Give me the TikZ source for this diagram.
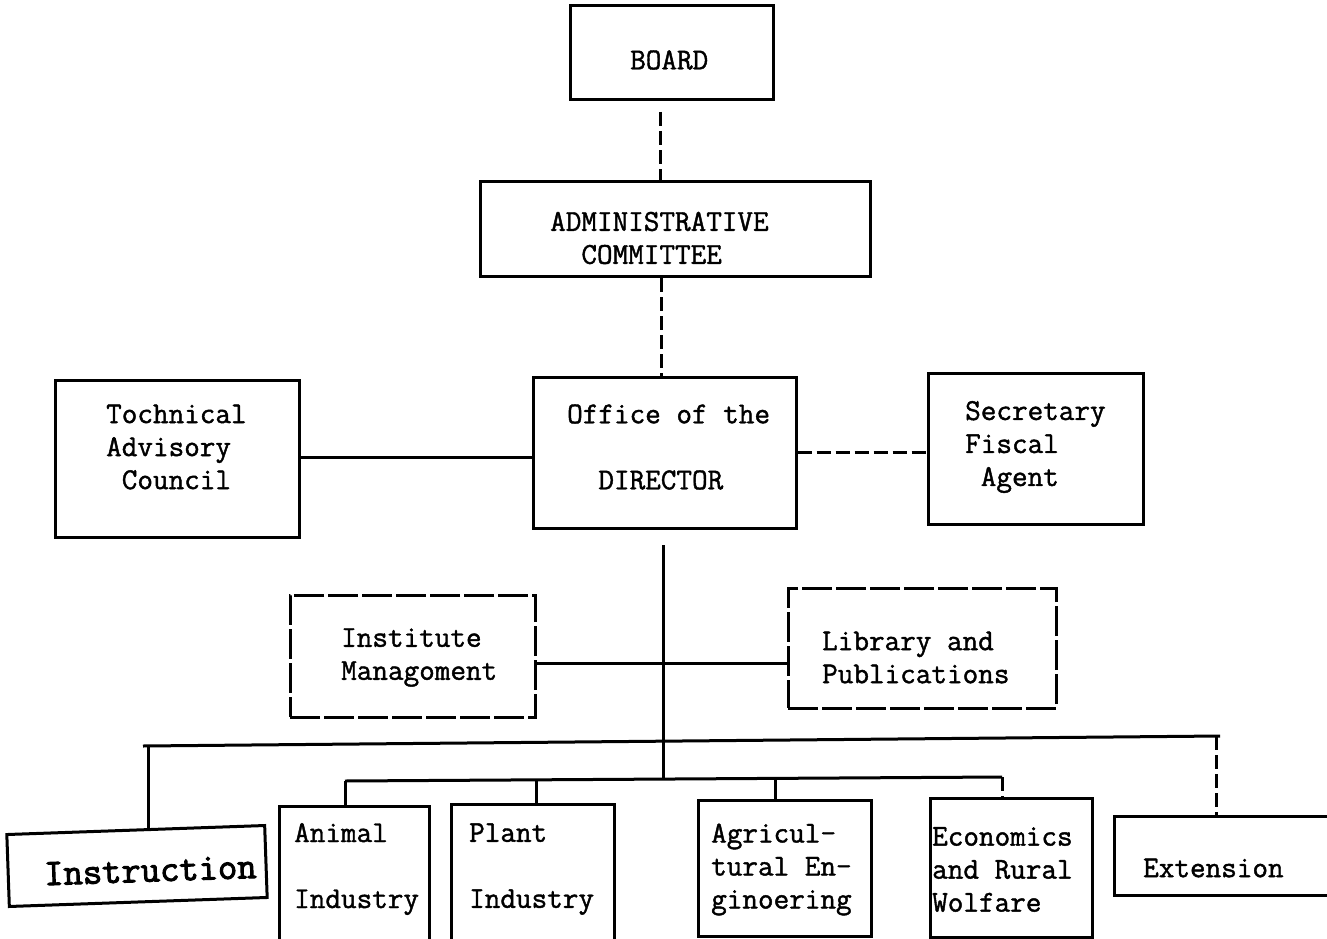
\documentclass[tikz,border=0pt]{standalone}
\usepackage{fontspec}
\newfontfamily\tw{Latin Modern Mono}[FakeBold=1.4]
\newfontfamily\twb{Latin Modern Mono}[FakeBold=2.6]
\usetikzlibrary{calc}
\begin{document}
\begin{tikzpicture}[x=1pt,y=-1pt,
  box/.style={draw, line width=3pt, inner sep=0pt, rectangle},
  tbox/.style={box, dash pattern=on 30pt off 4pt},
  obox/.style={inner sep=0pt, rectangle},
  txt/.style={font=\tw\fontsize{30.3}{33}\selectfont, inner sep=0pt, align=left, anchor=west},
  link/.style={line width=3pt},
  dlink/.style={line width=3pt, dash pattern=on 14pt off 5pt}]
\useasboundingbox (0,0) rectangle (1327,939);

% boxes
\node[box, minimum width=203pt, minimum height=94pt] (board) at (671.5,52.5) {};
\node[box, minimum width=390pt, minimum height=95pt] (adm) at (675,229) {};
\node[box, minimum width=263pt, minimum height=151pt] (dir) at (664.5,452.5) {};
\node[box, minimum width=244pt, minimum height=157pt] (tech) at (177,458.5) {};
\node[box, minimum width=215pt, minimum height=151pt] (sec) at (1035.5,448.5) {};
\node[tbox, minimum width=245pt, minimum height=122pt] (inst) at (412.5,656) {};
\node[tbox, minimum width=268pt, minimum height=120pt] (lib) at (922,648) {};
\node[box, rotate=2, minimum width=258pt, minimum height=72pt] (instr) at (137,866) {};
\node[obox, minimum width=149pt, minimum height=132pt] (anim) at (354.5,873) {};
\node[obox, minimum width=162pt, minimum height=134pt] (plant) at (533,872) {};
\node[box, minimum width=173pt, minimum height=136pt] (agri) at (784.5,868) {};
\node[box, minimum width=162pt, minimum height=139pt] (econ) at (1011,867.5) {};
\node[obox, minimum width=212pt, minimum height=78pt] (ext) at (1221,856) {};

\draw[link] (anim.south west) -- (anim.north west) -- (anim.north east) -- (anim.south east);
\draw[link] (plant.south west) -- (plant.north west) -- (plant.north east) -- (plant.south east);
\draw[link] (ext.north east) -- (ext.north west) -- (ext.south west) -- (ext.south east);

% texts
\node[txt] (t-board) at (630,60) {BOARD};
\node[txt] (t-adm) at (550,238) {ADMINISTRATIVE\\\hphantom{MM}COMMITTEE};
\node[txt] (t-dir) at (567,447) {Office of the\\[33pt]\hphantom{MM}DIRECTOR};
\node[txt] (t-tech) at (106,447) {Tochnical\\Advisory\\\hphantom{M}Council};
\node[txt] (t-sec) at (965,447) {Secretary\\Fiscal\\\hphantom{M}Agent};
\node[txt] (t-inst) at (341,657.5) {Institute\\Managoment};
\node[txt] (t-lib) at (822,657.5) {Library and\\Publications};
\node[txt, rotate=2, font=\twb\fontsize{37.5}{40}\selectfont] (t-instr) at (44,874) {Instruction};
\node[txt] (t-anim) at (294,869) {Animal\\[33pt]Industry};
\node[txt] (t-plant) at (469,869) {Plant\\[33pt]Industry};
\node[txt] (t-agri) at (711,869.5) {Agricul-\\tural En-\\ginoering};
\node[txt] (t-econ) at (932,869.5) {Economics\\and Rural\\Wolfare};
\node[txt] (t-ext) at (1143,868) {Extension};

% connectors
\coordinate (xa) at (660,112);
\draw[dlink] (xa) -- (xa |- adm.north);
\coordinate (xb) at (661,0);
\draw[dlink] (xb |- adm.south) -- (xb |- dir.north);
\coordinate (ya) at (0,457);
\draw[link] (tech.east |- ya) -- (dir.west |- ya);
\coordinate (yb) at (0,452);
\draw[dlink] (dir.east |- yb) -- (sec.west |- yb);
\coordinate (xc) at (663,545);
\coordinate (ib) at (663,780);
\draw[link] (xc) -- (ib);
\coordinate (yc) at (0,663);
\draw[link] (inst.east |- yc) -- (lib.west |- yc);
% outer bus
\coordinate (ol) at (143,746);
\coordinate (or) at (1220,736);
\draw[link] (ol) -- (or);
\coordinate (xi) at (148,746);
\draw[link] (xi) -- (xi |- instr.north);
\coordinate (xe) at (1216,736);
\draw[dlink] (xe) -- (xe |- ext.north);
% inner bus
\coordinate (il) at (345,781);
\coordinate (ir) at (1002,777);
\draw[link] (il) -- (ir);
\draw[link] (il) -- (il |- anim.north);
\coordinate (xp) at (536,780);
\draw[link] (xp) -- (xp |- plant.north);
\coordinate (xg) at (775,778);
\draw[link] (xg) -- (xg |- agri.north);
\draw[dlink] (ir) -- (ir |- econ.north);
\end{tikzpicture}
\end{document}
